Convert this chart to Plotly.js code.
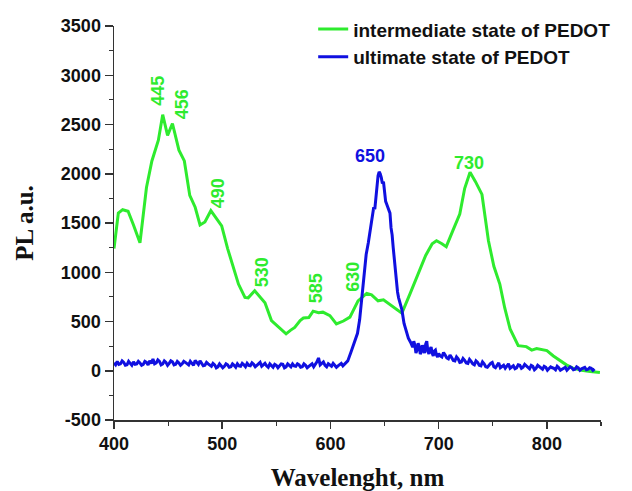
<!DOCTYPE html>
<html>
<head>
<meta charset="utf-8">
<script src="https://cdn.plot.ly/plotly-3.0.1.min.js"></script>
<style>html,body{margin:0;padding:0;background:#fff}#chart{width:632px;height:491px}</style>
</head>
<body>
<div id="chart"></div>
<script>
// Intermediate state of PEDOT (green)
const interX = [400,404,408,413,418,424,430,435,441,445,449.5,454,460,465,470,475,479.5,484,489.5,495,499.5,505,510,515,521,524,530,535,539.5,545.5,552,559,563,567,572,575,580,584,589,593,599.5,605.5,612,618,625.5,633.5,638,644,649,654,658,662,666,673.5,683,688,694,698,703,707,713,719.5,724,729,734,740,746,751,756.5,761,766,773.5,781,786,790.5,795,800,806,812,818,824,832,840,849];
const interY = [1240,1600,1635,1620,1480,1300,1860,2130,2340,2600,2390,2510,2240,2130,1780,1660,1480,1510,1625,1540,1470,1240,1050,880,745,740,812,750,690,510,440,375,410,440,510,535,540,605,590,595,560,475,505,545,710,785,770,710,720,680,645,615,585,780,1030,1170,1290,1320,1290,1260,1420,1590,1850,2015,1920,1790,1320,1060,880,640,425,255,245,210,225,215,205,150,102,60,27,5,-7,-17];

// Ultimate state of PEDOT (blue)
const ultX = [
400,401.5,403,404.5,406,407.5,409,410.5,412,413.5,415,416.5,418,419.5,421,422.5,424,425.5,427,428.5,430,431.5,433,434.5,436,437.5,439,440.5,442,443.5,445,446.5,448,449.5,451,452.5,454,455.5,457,458.5,460,461.5,463,464.5,466,467.5,469,470.5,472,473.5,475,476.5,478,479.5,481,482.5,484,485.5,487,488.5,490,491.5,493,494.5,496,497.5,499,500.5,502,503.5,505,506.5,508,509.5,511,512.5,514,515.5,517,518.5,520,521.5,523,524.5,526,527.5,529,530.5,532,533.5,535,536.5,538,539.5,541,542.5,544,545.5,547,548.5,550,551.5,553,554.5,556,557.5,559,560.5,562,563.5,565,566.5,568,569.5,571,572.5,574,575.5,577,578.5,580,581.5,583,584.5,586,587.5,589,590.5,592,593.5,595,596.5,598,599.5,601,602.5,604,605.5,607,608.5,610,611.5,613,614.5,
616,619,622,625,627,629,631,633,635,637,639,640,641,642,643,644,645,646,647,648,649,650,651,652,653,654,655,656,657,658,659,660,661,662,663,664,666,668,670,672,674,
676,677,678,679,680,681,682,683,684,685,686,687,688,689,690,691,692,693,694,695,696,697,698,699,
700,701.5,703,704.5,706,707.5,709,710.5,712,713.5,715,716.5,718,719.5,721,722.5,724,725.5,727,728.5,730,731.5,733,734.5,736,737.5,739,740.5,742,743.5,745,746.5,748,749.5,751,752.5,754,755.5,757,758.5,760,761.5,763,764.5,766,767.5,769,770.5,772,773.5,775,776.5,778,779.5,781,782.5,784,785.5,787,788.5,790,791.5,793,794.5,796,797.5,799,800.5,802,803.5,805,806.5,808,809.5,811,812.5,814,815.5,817,818.5,820,821.5,823,824.5,826,827.5,829,830.5,832,833.5,835,836.5,838,839.5,841,842.5,844];
const ultY = [
80,60,95,65,70,100,85,55,60,95,75,55,90,65,70,95,80,55,65,95,85,60,100,75,120,70,80,110,95,60,70,100,85,55,75,100,90,60,65,95,80,55,70,95,85,70,60,95,75,55,105,80,65,100,80,50,55,85,70,60,45,75,60,30,40,70,50,30,45,70,60,35,40,70,55,35,70,50,45,75,60,40,75,55,50,80,65,40,55,70,85,45,60,75,50,35,70,55,35,65,55,30,45,70,65,30,40,70,55,40,70,50,45,70,60,35,40,70,55,30,45,60,70,40,60,90,130,60,75,90,55,40,70,55,45,75,60,35,50,60,75,50,65,85,
100,190,290,380,520,750,980,1180,1300,1450,1560,1660,1640,1760,1850,1980,2020,2000,1960,1900,1920,1800,1720,1690,1660,1640,1600,1450,1380,1250,1120,1000,900,800,740,700,620,480,400,330,290,
240,300,260,180,210,280,250,170,190,260,230,180,270,300,200,170,220,240,180,150,200,210,160,140,
175,150,140,185,160,130,120,160,135,105,100,140,120,85,90,125,105,80,75,115,95,70,60,100,85,55,50,90,70,40,35,60,75,85,40,30,60,80,30,45,55,25,45,70,25,40,50,20,30,60,55,25,35,65,50,30,20,55,45,10,25,55,40,20,15,45,35,5,20,40,30,25,10,45,30,5,15,25,35,5,20,40,30,10,15,40,30,5,20,25,35,10,15,30,25,5,20];

// Peak labels
const peakLabels = ['445','456','490','530','585','630','650','730'];
const labelX = [440.7,462.4,495.6,536.3,586.2,620.8,636.6,727.6];
const labelY = [2843,2700,1807,995,832,954,2183,2107];
const labelAngle = [-90,-90,-90,-90,-90,-90,0,0];
const labelSeries = [0,0,0,0,0,0,1,0];

// Y tick labels (hyphen as in original)
const yTickVals = [-500,0,500,1000,1500,2000,2500,3000,3500];
const yTickText = ['-500','0','500','1000','1500','2000','2500','3000','3500'];

const colors = ['#2eeb2e','#1010e0'];
const names = ['intermediate state of PEDOT','ultimate state of PEDOT'];

const traces = [
  {x: interX, y: interY, type:'scatter', mode:'lines', name: names[0], line:{color:colors[0], width:3}},
  {x: ultX, y: ultY, type:'scatter', mode:'lines', name: names[1], line:{color:colors[1], width:3}}
];

const annotations = peakLabels.map((t,i)=>({
  x: labelX[i], y: labelY[i], xref:'x', yref:'y', text: t, showarrow:false,
  textangle: labelAngle[i], xanchor:'center', yanchor:'middle',
  font:{family:'"Liberation Sans", Arial, sans-serif', size:18, weight:'bold', color: colors[labelSeries[i]]}
}));

const tickFont = {family:'"Liberation Sans", Arial, sans-serif', size:18, weight:'bold', color:'#111'};
const titleFont = {family:'"Liberation Serif", "Times New Roman", serif', size:25, weight:'bold', color:'#111'};

const layout = {
  width:632, height:491,
  margin:{l:114, r:31, t:26, b:71, pad:0, autoexpand:false},
  paper_bgcolor:'#fff', plot_bgcolor:'#fff',
  showlegend:true,
  legend:{x:0.409, y:1.040, xanchor:'left', yanchor:'top', bgcolor:'rgba(0,0,0,0)',
    font:{family:'"Liberation Sans", Arial, sans-serif', size:19, weight:'bold', color:'#111'},
    tracegroupgap:0, itemwidth:30},
  xaxis:{range:[400,850], showgrid:false, zeroline:false, showline:true, linecolor:'#333', linewidth:1.5,
    ticks:'outside', ticklen:7, tickwidth:1.5, tickcolor:'#333', dtick:100, tick0:400,
    minor:{dtick:50, ticks:'outside', ticklen:4, tickwidth:1.2, tickcolor:'#333'},
    tickfont:tickFont, title:{text:'Wavelenght, nm', font:titleFont, standoff:18}},
  yaxis:{range:[-500,3500], showgrid:false, zeroline:false, showline:true, linecolor:'#333', linewidth:1.5,
    ticks:'outside', ticklen:8, tickwidth:1.5, tickcolor:'#333', tickmode:'array', tickvals:yTickVals, ticktext:yTickText,
    minor:{dtick:250, tick0:0, ticks:'outside', ticklen:4, tickwidth:1.2, tickcolor:'#333'},
    tickfont:tickFont, title:{text:'PL a.u.', font:titleFont, standoff:20}},
  annotations: annotations
};

Plotly.newPlot('chart', traces, layout, {displayModeBar:false, staticPlot:true});
</script>
</body>
</html>
